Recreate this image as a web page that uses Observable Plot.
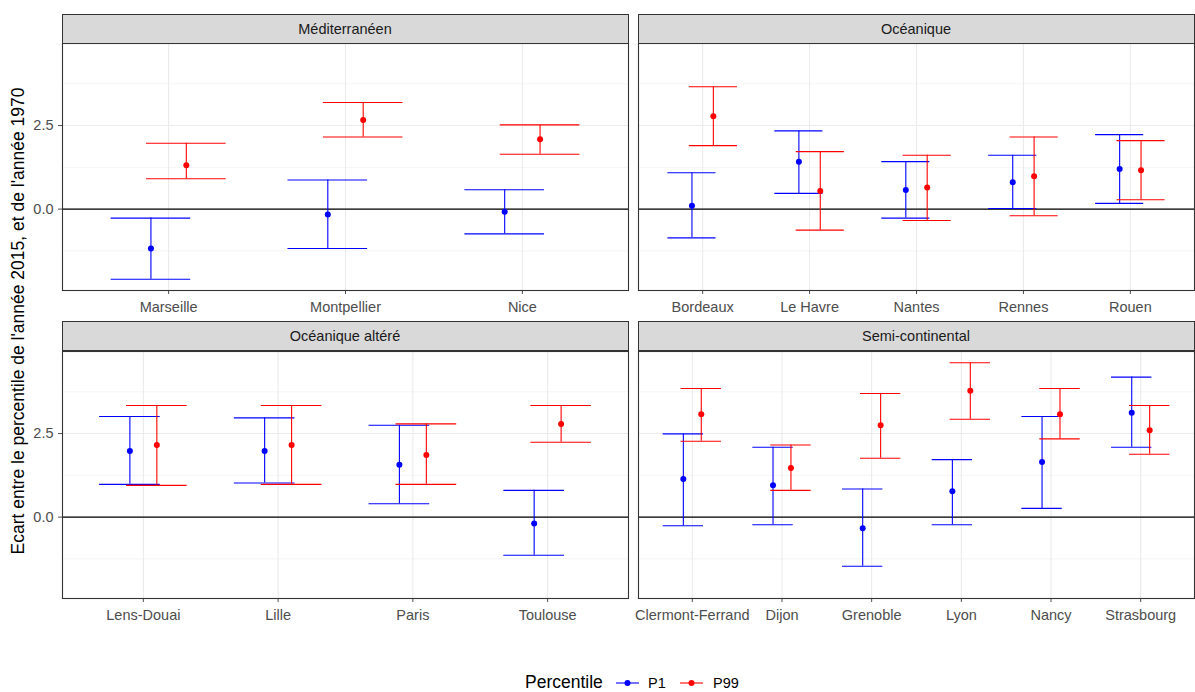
<!DOCTYPE html>
<html lang="fr">
<head>
<meta charset="utf-8">
<script src="https://cdn.jsdelivr.net/npm/d3@7"></script>
<script src="https://cdn.jsdelivr.net/npm/@observablehq/plot@0.6"></script>
<style>
  body { margin: 0; background: #fff; }
  #chart { position: relative; width: 1195px; height: 692px; overflow: hidden; background: #fff;
           font-family: "Liberation Sans", Arial, sans-serif; }
  .strip { position: absolute; box-sizing: border-box; height: 30px; background: #D9D9D9;
           border: 1.1px solid #333333; color: #1A1A1A; font-size: 14.5px;
           display: flex; align-items: center; justify-content: center; }
  .panel { position: absolute; }
  .ytitle { position: absolute; left: 18px; top: 321px; transform: translate(-50%, -50%) rotate(-90deg);
            white-space: nowrap; font-size: 17.5px; color: #000; }
  .legend { position: absolute; left: 500px; top: 666px; overflow: visible; }
</style>
</head>
<body>
<div id="chart"></div>
<script>
// Climate regions (one panel each) and their cities
const regions = ["Méditerranéen", "Océanique", "Océanique altéré", "Semi-continental"];
const cities = [
  "Marseille", "Montpellier", "Nice",
  "Bordeaux", "Le Havre", "Nantes", "Rennes", "Rouen",
  "Lens-Douai", "Lille", "Paris", "Toulouse",
  "Clermont-Ferrand", "Dijon", "Grenoble", "Lyon", "Nancy", "Strasbourg"
];
const cityRegion = [
  "Méditerranéen", "Méditerranéen", "Méditerranéen",
  "Océanique", "Océanique", "Océanique", "Océanique", "Océanique",
  "Océanique altéré", "Océanique altéré", "Océanique altéré", "Océanique altéré",
  "Semi-continental", "Semi-continental", "Semi-continental", "Semi-continental", "Semi-continental", "Semi-continental"
];
const percentiles = ["P1", "P99"];

// Gap between 2015 and 1970 percentiles: estimate and interval bounds, per city
const p1Mid  = [-1.18, -0.16, -0.08,  0.10, 1.42,  0.57, 0.80, 1.20,  1.98, 1.98, 1.57, -0.19,  1.14,  0.95, -0.33,  0.77, 1.65, 3.12];
const p1Low  = [-2.10, -1.18, -0.74, -0.86, 0.47, -0.27, 0.02, 0.17,  0.98, 1.02, 0.40, -1.14, -0.26, -0.23, -1.47, -0.23, 0.26, 2.09];
const p1High = [-0.27,  0.87,  0.58,  1.09, 2.34,  1.42, 1.61, 2.23,  3.01, 2.97, 2.75,  0.80,  2.49,  2.09,  0.84,  1.72, 3.01, 4.19];
const p99Mid  = [1.31, 2.67, 2.09, 2.78,  0.54,  0.65,  0.98, 1.16, 2.16, 2.16, 1.86, 2.79, 3.08, 1.47, 2.75, 3.78, 3.08, 2.60];
const p99Low  = [0.91, 2.16, 1.64, 1.90, -0.63, -0.34, -0.20, 0.28, 0.95, 0.98, 0.98, 2.24, 2.27, 0.80, 1.76, 2.93, 2.34, 1.88];
const p99High = [1.97, 3.19, 2.52, 3.66,  1.72,  1.61,  2.16, 2.05, 3.34, 3.34, 2.79, 3.34, 3.85, 2.16, 3.70, 4.62, 3.85, 3.34];

// y axis ticks
const yTicks = [0, 2.5];
const yMinor = [-1.25, 1.25, 3.75];

const colors = ["#0000FF", "#FF0000"];
const yTitle = "Ecart entre le percentile de l'année 2015, et de l'année 1970";
const legendTitle = "Percentile";

// Long table built from the arrays above
const records = [];
cities.forEach((city, i) => {
  records.push({city, region: cityRegion[i], pct: "P1", mid: p1Mid[i], low: p1Low[i], high: p1High[i]});
  records.push({city, region: cityRegion[i], pct: "P99", mid: p99Mid[i], low: p99Low[i], high: p99High[i]});
});

// Shared y domain: data range expanded by 5% on each side
const yMin = d3.min(records, d => d.low), yMax = d3.max(records, d => d.high);
const yPad = (yMax - yMin) * 0.05;
const yDomain = [yMin - yPad, yMax + yPad];

// Layout: the band of each city is as wide as an error bar cap,
// and city centres sit 0.6 step from the panel edges.
const capWidth = 0.45;                        // cap width, in category steps
const paddingInner = 1 - capWidth;
const paddingOuter = 0.1 + paddingInner / 2;
const dodge = 0.1;                            // shift of each percentile, in category steps
const grid = "#EBEBEB";
const columns = [
  {left: 0, width: 630, marginLeft: 62, marginRight: 2, showY: true},
  {left: 636, width: 559, marginLeft: 2, marginRight: 1, showY: false}
];
const rowsLayout = [{stripTop: 14, svgTop: 42}, {stripTop: 321, svgTop: 350}];
const frameHeight = 247, marginTop = 1, marginBottom = 30;

const chart = document.getElementById("chart");

function drawPanel(region, col, row) {
  const names = cities.filter((c, i) => cityRegion[i] === region);
  const data = records.filter(d => d.region === region);
  const inner = col.width - col.marginLeft - col.marginRight;
  const step = inner / (names.length - paddingInner + 2 * paddingOuter);

  const marks = [
    Plot.ruleY(yMinor, {stroke: grid, strokeWidth: 0.55}),
    Plot.ruleY(yTicks, {stroke: grid, strokeWidth: 1.1}),
    Plot.ruleX(names, {stroke: grid, strokeWidth: 1.1}),
    Plot.ruleY([0], {stroke: "#000", strokeWidth: 1.1})
  ];
  percentiles.forEach((p, k) => {
    const sub = data.filter(d => d.pct === p);
    const dx = (k === 0 ? -1 : 1) * dodge * step;
    marks.push(
      Plot.ruleX(sub, {x: "city", y1: "low", y2: "high", stroke: "pct", strokeWidth: 1.1, dx}),
      Plot.tickY(sub, {x: "city", y: "low", stroke: "pct", strokeWidth: 1.1, dx}),
      Plot.tickY(sub, {x: "city", y: "high", stroke: "pct", strokeWidth: 1.1, dx})
    );
  });
  percentiles.forEach((p, k) => {
    const sub = data.filter(d => d.pct === p);
    const dx = (k === 0 ? -1 : 1) * dodge * step;
    marks.push(Plot.dot(sub, {x: "city", y: "mid", fill: "pct", r: 3, dx}));
  });
  marks.push(Plot.frame({stroke: "#333333", strokeWidth: 1.1}));

  const svg = Plot.plot({
    width: col.width,
    height: marginTop + frameHeight + marginBottom,
    marginLeft: col.marginLeft,
    marginRight: col.marginRight,
    marginTop,
    marginBottom,
    style: {fontFamily: "'Liberation Sans', Arial, sans-serif", fontSize: "14.5px", color: "#4D4D4D",
            background: "transparent", overflow: "visible"},
    x: {type: "band", domain: names, paddingInner, paddingOuter, round: false,
        tickSize: 4, tickPadding: 7, label: null},
    y: {domain: yDomain, ticks: yTicks, tickFormat: d3.format(".1f"), tickSize: 4, tickPadding: 5,
        label: null, axis: col.showY ? "left" : null},
    color: {domain: percentiles, range: colors},
    marks
  });
  const wrap = document.createElement("div");
  wrap.className = "panel";
  wrap.style.left = col.left + "px";
  wrap.style.top = row.svgTop + "px";
  wrap.appendChild(svg);
  chart.appendChild(wrap);

  const strip = document.createElement("div");
  strip.className = "strip";
  strip.textContent = region;
  strip.style.left = (col.left + col.marginLeft - 0.5) + "px";
  strip.style.width = (inner + 1) + "px";
  strip.style.top = row.stripTop + "px";
  chart.appendChild(strip);
}

regions.forEach((region, i) => drawPanel(region, columns[i % 2], rowsLayout[Math.floor(i / 2)]));

// Axis title
const yt = document.createElement("div");
yt.className = "ytitle";
yt.textContent = yTitle;
chart.appendChild(yt);

// Legend: line + point keys
const ns = "http://www.w3.org/2000/svg";
const leg = document.createElementNS(ns, "svg");
leg.setAttribute("class", "legend");
leg.setAttribute("width", 260);
leg.setAttribute("height", 26);
leg.style.fontFamily = "'Liberation Sans', Arial, sans-serif";
function svgEl(tag, attrs, text) {
  const el = document.createElementNS(ns, tag);
  for (const k in attrs) el.setAttribute(k, attrs[k]);
  if (text) el.textContent = text;
  leg.appendChild(el);
  return el;
}
svgEl("text", {x: 25, y: 22, "font-size": "17.5px", fill: "#000"}, legendTitle);
const keyX = [116, 180], labelX = [148, 213];
percentiles.forEach((p, k) => {
  svgEl("line", {x1: keyX[k], x2: keyX[k] + 23, y1: 17, y2: 17, stroke: colors[k], "stroke-width": 1.1});
  svgEl("circle", {cx: keyX[k] + 11.5, cy: 17, r: 3, fill: colors[k]});
  svgEl("text", {x: labelX[k], y: 22, "font-size": "14.5px", fill: "#000"}, p);
});
chart.appendChild(leg);
</script>
</body>
</html>
